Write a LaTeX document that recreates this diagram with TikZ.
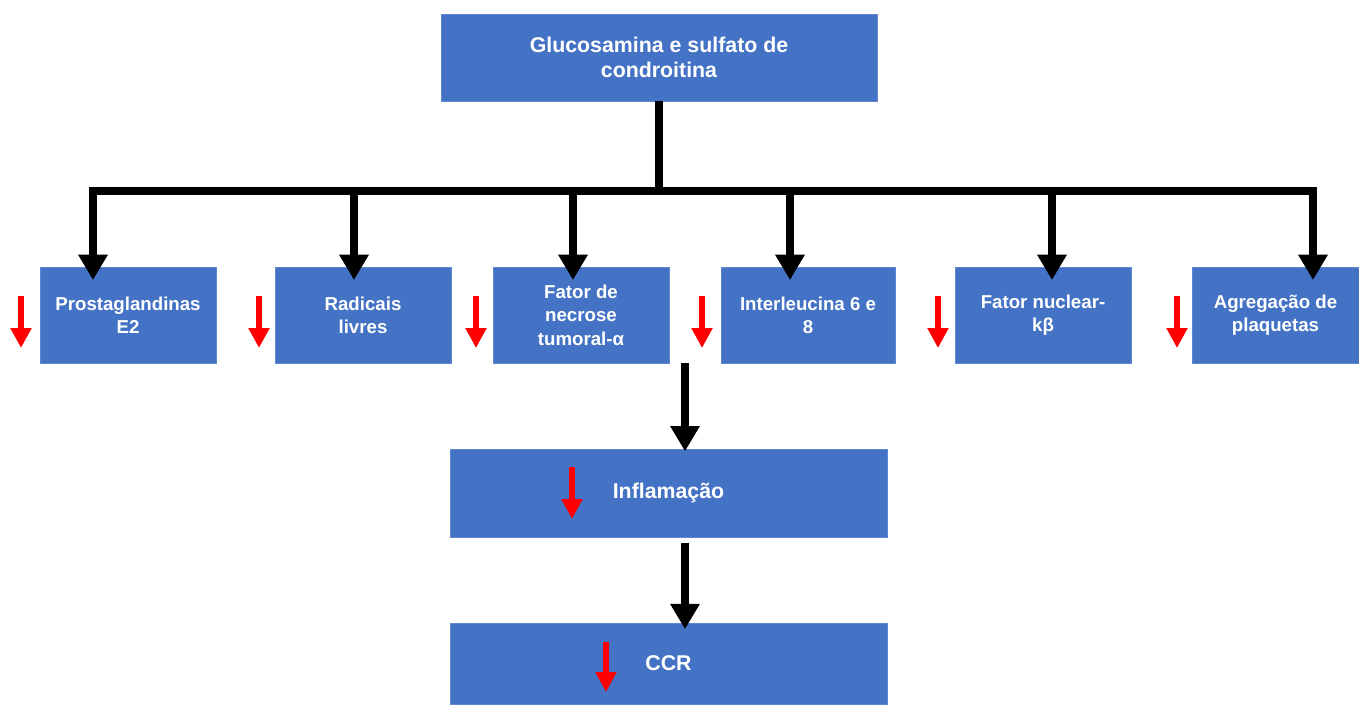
\documentclass[tikz,border=0pt]{standalone}
\usepackage{fontspec}
\setmainfont{Liberation Sans}
\usetikzlibrary{arrows.meta}
\definecolor{boxblue}{HTML}{4472C4}

\begin{document}
\begin{tikzpicture}[x=0.75pt,y=-0.75pt,
    bluebox/.style={rectangle, fill=boxblue, draw=boxblue!85!white, line width=0.5pt,
        text=white, align=center, inner sep=0pt, font=\bfseries\fontsize{14}{17.5}\selectfont},
    bigtext/.style={font=\bfseries\fontsize{16}{19}\selectfont},
    flow/.style={draw=black, line width=6.5pt, -{Triangle[width=21pt,length=19pt]}},
    less/.style={draw=red, line width=4pt, -{Triangle[width=15pt,length=15pt]}}]
    \useasboundingbox (0,0) rectangle (1359,704);

    % Source
    \node[bluebox, bigtext, minimum width=327pt, minimum height=65pt] (Source) at (659,57.5)
        {Glucosamina e sulfato de\\condroitina};

    % Effects
    \foreach \n/\x/\w/\dx/\rx/\txt in {1/128/176/93/21/{Prostaglandinas\\E2},
        2/363/176/354/259/{Radicais\\livres},
        3/581/176/573/476/{Fator de\\necrose\\tumoral-α},
        4/808/174/790/702/{Interleucina 6 e\\8},
        5/1043/176/1052/938/{Fator nuclear-\\kβ},
        6/1275.5/167/1313/1177/{Agregação de\\plaquetas}}
    {
        \node[bluebox, minimum width=\w*0.75pt, minimum height=72pt] (Effect-\n) at (\x,315) {\txt};
        \coordinate (Bus-\n) at (\dx,191);
        \draw[less] (\rx,296) -- (\rx,348);
    }

    % Bus from the source to the effects
    \draw[line width=6.5pt] (Source.south) -- (Source.south |- Bus-1);
    \draw[line width=6.5pt, line cap=rect] (Bus-1) -- (Bus-6);
    \foreach \n in {1,...,6}
    {
        \draw[flow, shorten >=-10pt] (Bus-\n) -- (Bus-\n |- Effect-\n.north);
    }

    % Inflammation and CCR
    \node[bluebox, bigtext, minimum width=327.75pt, minimum height=66pt] (Inflam) at (668.5,493) {Inflamação};
    \node[bluebox, bigtext, minimum width=327.75pt, minimum height=61pt] (CCR) at (668.5,663.5) {CCR};
    \draw[less] (572,467) -- (572,519);
    \draw[less] (606,642) -- (606,692);

    \coordinate (Merge) at (685,363);
    \draw[flow, shorten >=-2pt] (Merge) -- (Merge |- Inflam.north);
    \draw[flow, shorten >=-5pt] ([yshift=-4pt]Inflam.south -| Merge) -- (CCR.north -| Merge);
\end{tikzpicture}
\end{document}
